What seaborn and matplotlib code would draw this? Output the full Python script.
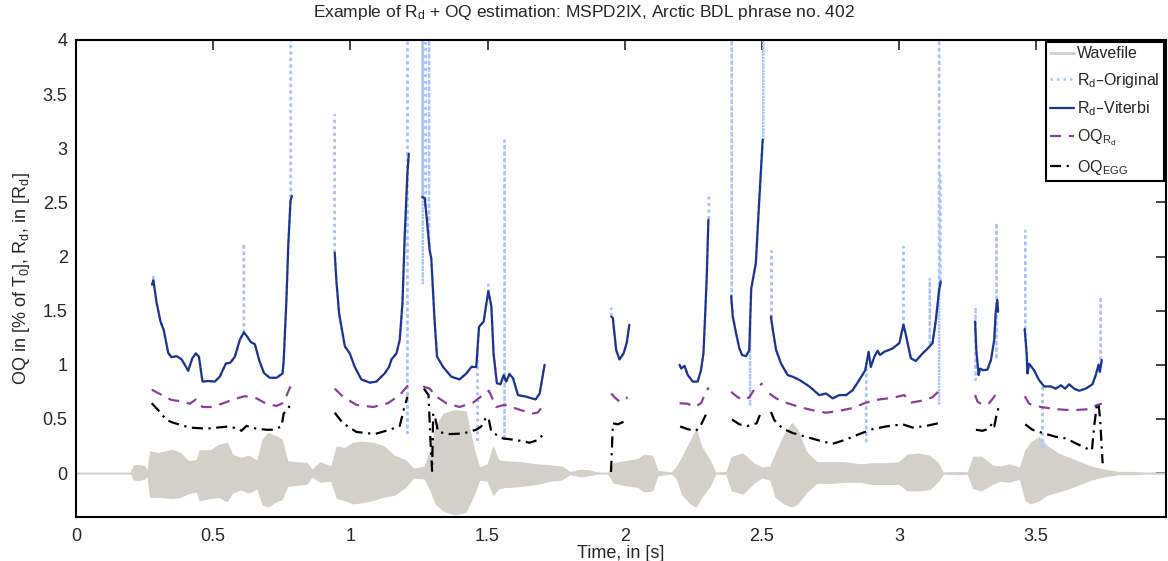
import numpy as np
import pandas as pd
import matplotlib
matplotlib.use("Agg")
import matplotlib.pyplot as plt
from matplotlib.lines import Line2D
import seaborn as sns

# Rd - Viterbi segments (time in s, value)
vit_t = [
    [0.277, 0.282, 0.294, 0.308, 0.320, 0.336, 0.348, 0.367, 0.385, 0.409, 0.424, 0.437, 0.448, 0.461, 0.482,
     0.506, 0.524, 0.546, 0.563, 0.579, 0.597, 0.612, 0.624, 0.637, 0.652, 0.668, 0.685, 0.706, 0.731, 0.753,
     0.757, 0.767, 0.774, 0.782, 0.787],
    [0.943, 0.949, 0.959, 0.980, 0.998, 1.016, 1.040, 1.071, 1.095, 1.125, 1.141, 1.150, 1.168, 1.180, 1.190,
     1.198, 1.208, 1.213],
    [1.262, 1.271, 1.279, 1.289, 1.295, 1.307, 1.316, 1.338, 1.368, 1.398, 1.423, 1.441, 1.459, 1.469, 1.486,
     1.496, 1.503, 1.514, 1.522, 1.534, 1.547, 1.559, 1.568, 1.580, 1.593, 1.611, 1.641, 1.675, 1.690, 1.708],
    [1.951, 1.957, 1.960, 1.969, 1.981, 1.996, 2.008, 2.017],
    [2.200, 2.206, 2.218, 2.230, 2.248, 2.266, 2.278, 2.287, 2.294, 2.299, 2.305],
    [2.388, 2.394, 2.406, 2.418, 2.428, 2.442, 2.454, 2.461, 2.478, 2.490, 2.503],
    [2.533, 2.540, 2.552, 2.570, 2.594, 2.612, 2.637, 2.673, 2.709, 2.734, 2.758, 2.782, 2.807, 2.831, 2.855,
     2.877, 2.889, 2.897, 2.910, 2.922, 2.930, 2.946, 2.976, 3.001, 3.016, 3.025, 3.043, 3.061, 3.086, 3.110,
     3.122, 3.134, 3.146, 3.152],
    [3.277, 3.282, 3.290, 3.295, 3.307, 3.322, 3.335, 3.347, 3.352, 3.358, 3.361],
    [3.458, 3.465, 3.468, 3.474, 3.492, 3.510, 3.529, 3.553, 3.571, 3.590, 3.605, 3.620, 3.638, 3.656, 3.681,
     3.705, 3.717, 3.727, 3.732, 3.739],
]
vit_v = [
    [1.74, 1.78, 1.57, 1.40, 1.32, 1.11, 1.07, 1.08, 1.05, 0.945, 1.06, 1.105, 1.075, 0.845, 0.85,
     0.845, 0.89, 1.01, 1.02, 1.075, 1.23, 1.30, 1.26, 1.21, 1.19, 1.04, 0.925, 0.88, 0.88, 0.92,
     1.04, 1.60, 2.12, 2.52, 2.56],
    [2.035, 1.78, 1.475, 1.17, 1.105, 0.98, 0.865, 0.835, 0.845, 0.92, 0.98, 1.05, 1.105, 1.23, 1.57,
     2.18, 2.77, 2.95],
    [2.55, 2.54, 2.34, 2.06, 1.98, 1.41, 1.075, 0.98, 0.89, 0.865, 0.92, 0.98, 0.98, 1.35, 1.40,
     1.57, 1.68, 1.54, 1.105, 0.83, 0.82, 0.905, 0.845, 0.915, 0.875, 0.72, 0.705, 0.68, 0.735, 1.00],
    [1.445, 1.43, 1.35, 1.135, 1.05, 1.105, 1.21, 1.37],
    [1.00, 0.965, 0.99, 0.905, 0.845, 0.845, 0.95, 1.105, 1.505, 1.81, 2.34],
    [1.635, 1.445, 1.29, 1.15, 1.09, 1.08, 1.135, 1.70, 1.94, 2.50, 3.08],
    [1.445, 1.32, 1.135, 1.01, 0.905, 0.89, 0.86, 0.80, 0.72, 0.735, 0.69, 0.72, 0.72, 0.765, 0.86,
     0.95, 1.12, 0.98, 1.075, 1.13, 1.09, 1.12, 1.15, 1.20, 1.37, 1.275, 1.06, 1.035, 1.105, 1.165,
     1.20, 1.41, 1.69, 1.77],
    [1.40, 1.12, 0.905, 0.965, 0.95, 0.955, 1.045, 1.23, 1.475, 1.60, 1.49],
    [1.33, 1.105, 0.92, 1.01, 0.95, 0.86, 0.80, 0.80, 0.78, 0.81, 0.78, 0.82, 0.78, 0.76, 0.78,
     0.82, 0.905, 1.00, 0.935, 1.045],
]

# Rd - Original: follows Viterbi except for these outlier excursions
orig_spike_t = [0.282, 0.612, 0.783, 0.943, 1.208, 1.264, 1.275, 1.287, 1.464, 1.503, 1.562, 1.951, 2.307,
                2.390, 2.457, 2.505, 2.535, 2.880, 3.016, 3.112, 3.146, 3.150, 3.279, 3.355, 3.460, 3.523, 3.735]
orig_spike_v = [(1.83,), (2.12,), (4.0,), (3.31,), (0.37, 4.0), (4.0, 1.74, 4.0), (4.0,), (4.0,), (0.28,),
                (1.74,), (3.07, 0.30), (1.52,), (2.57,), (4.0,), (0.62,), (4.0,), (2.05,), (0.27,), (2.09,),
                (1.80,), (4.0, 0.63), (2.75,), (1.53, 0.86), (2.31, 1.05), (2.24,), (0.24,), (1.63,)]

# OQ from Rd
oqrd_t = [
    [0.276, 0.306, 0.348, 0.391, 0.415, 0.437, 0.461, 0.494, 0.537, 0.573, 0.615, 0.658, 0.694, 0.731, 0.757,
     0.773, 0.782],
    [0.943, 0.973, 1.022, 1.083, 1.137, 1.180, 1.210],
    [1.265, 1.289, 1.314, 1.350, 1.398, 1.447, 1.483, 1.505, 1.520, 1.532, 1.562, 1.587, 1.623, 1.665, 1.684,
     1.704],
    [1.951, 1.963, 1.981, 2.011],
    [2.200, 2.230, 2.254, 2.278, 2.294, 2.306],
    [2.388, 2.412, 2.436, 2.454, 2.473, 2.503],
    [2.527, 2.552, 2.588, 2.637, 2.685, 2.734, 2.782, 2.831, 2.879, 2.928, 2.976, 3.019, 3.043, 3.086, 3.122,
     3.150],
    [3.277, 3.286, 3.304, 3.328, 3.347, 3.358],
    [3.458, 3.474, 3.517, 3.571, 3.632, 3.693, 3.723, 3.739],
]
oqrd_v = [
    [0.77, 0.73, 0.675, 0.66, 0.64, 0.68, 0.61, 0.61, 0.645, 0.68, 0.71, 0.69, 0.64, 0.62, 0.65, 0.75, 0.80],
    [0.78, 0.705, 0.63, 0.61, 0.645, 0.72, 0.81],
    [0.80, 0.78, 0.705, 0.645, 0.61, 0.65, 0.72, 0.76, 0.675, 0.61, 0.63, 0.61, 0.58, 0.55, 0.56, 0.63],
    [0.735, 0.70, 0.66, 0.70],
    [0.645, 0.64, 0.61, 0.645, 0.735, 0.79],
    [0.75, 0.70, 0.675, 0.70, 0.775, 0.83],
    [0.735, 0.69, 0.65, 0.61, 0.58, 0.557, 0.575, 0.60, 0.65, 0.68, 0.695, 0.72, 0.65, 0.67, 0.70, 0.77],
    [0.72, 0.66, 0.63, 0.645, 0.705, 0.75],
    [0.71, 0.64, 0.61, 0.59, 0.58, 0.59, 0.63, 0.64],
]

# OQ from EGG
oqegg_t = [
    [0.276, 0.300, 0.330, 0.354, 0.415, 0.476, 0.555, 0.591, 0.603, 0.621, 0.658, 0.694, 0.719, 0.749, 0.757,
     0.773, 0.785],
    [0.943, 0.973, 1.022, 1.089, 1.143, 1.180, 1.194, 1.208],
    [1.268, 1.285, 1.292, 1.298, 1.302, 1.310, 1.320, 1.362, 1.410, 1.459, 1.477, 1.496, 1.505, 1.514, 1.556,
     1.605, 1.653, 1.684, 1.708],
    [1.950, 1.957, 1.975, 2.011],
    [2.202, 2.230, 2.260, 2.278, 2.297],
    [2.391, 2.418, 2.448, 2.481, 2.497],
    [2.533, 2.545, 2.576, 2.612, 2.661, 2.709, 2.758, 2.807, 2.855, 2.903, 2.952, 3.013, 3.050, 3.098, 3.152],
    [3.280, 3.304, 3.328, 3.340, 3.347, 3.354, 3.362],
    [3.460, 3.486, 3.523, 3.571, 3.608, 3.644, 3.681, 3.703, 3.711, 3.720, 3.727, 3.733, 3.742],
]
oqegg_v = [
    [0.645, 0.58, 0.49, 0.465, 0.42, 0.41, 0.43, 0.41, 0.39, 0.435, 0.41, 0.40, 0.40, 0.43, 0.55, 0.59, 0.66],
    [0.557, 0.46, 0.38, 0.36, 0.40, 0.435, 0.58, 0.705],
    [0.78, 0.72, 0.30, 0.02, 0.55, 0.50, 0.38, 0.36, 0.365, 0.40, 0.43, 0.52, 0.49, 0.38, 0.32, 0.305, 0.28,
     0.305, 0.37],
    [0.01, 0.46, 0.45, 0.49],
    [0.43, 0.405, 0.39, 0.445, 0.545],
    [0.495, 0.45, 0.435, 0.46, 0.565],
    [0.565, 0.49, 0.41, 0.37, 0.335, 0.30, 0.27, 0.31, 0.36, 0.405, 0.43, 0.45, 0.42, 0.435, 0.465],
    [0.40, 0.39, 0.41, 0.465, 0.43, 0.52, 0.60],
    [0.45, 0.40, 0.37, 0.335, 0.32, 0.275, 0.23, 0.21, 0.43, 0.61, 0.645, 0.49, 0.09],
]

# waveform envelope (upper / lower amplitude)
wave_t = [0.00, 0.20, 0.21, 0.23, 0.25, 0.26, 0.27, 0.30, 0.35, 0.38, 0.41, 0.44, 0.45, 0.49, 0.52, 0.55,
          0.57, 0.60, 0.63, 0.66, 0.68, 0.70, 0.73, 0.75, 0.77, 0.80, 0.84, 0.86, 0.89, 0.93, 0.95, 0.98,
          1.01, 1.04, 1.08, 1.12, 1.16, 1.20, 1.23, 1.27, 1.29, 1.31, 1.34, 1.38, 1.42, 1.45, 1.47, 1.50,
          1.52, 1.54, 1.56, 1.62, 1.68, 1.73, 1.77, 1.80, 1.84, 1.87, 1.90, 1.94, 1.96, 2.00, 2.05, 2.07,
          2.10, 2.12, 2.17, 2.19, 2.21, 2.24, 2.26, 2.28, 2.31, 2.33, 2.37, 2.39, 2.43, 2.47, 2.50, 2.53,
          2.55, 2.58, 2.61, 2.63, 2.66, 2.70, 2.75, 2.80, 2.86, 2.90, 2.95, 3.00, 3.03, 3.07, 3.11, 3.14,
          3.16, 3.22, 3.25, 3.27, 3.30, 3.34, 3.37, 3.40, 3.44, 3.46, 3.48, 3.51, 3.54, 3.58, 3.62, 3.66,
          3.70, 3.75, 3.80, 3.85, 3.90, 3.97]
wave_hi = [0.005, 0.005, 0.07, 0.075, 0.06, 0.02, 0.20, 0.185, 0.215, 0.185, 0.11, 0.12, 0.21, 0.21, 0.26, 0.28,
           0.17, 0.14, 0.16, 0.11, 0.31, 0.37, 0.34, 0.31, 0.11, 0.10, 0.095, 0.03, 0.10, 0.06, 0.245, 0.23,
           0.28, 0.29, 0.28, 0.25, 0.16, 0.12, 0.04, 0.06, 0.20, 0.42, 0.55, 0.58, 0.57, 0.22, 0.05, 0.08,
           0.24, 0.12, 0.11, 0.10, 0.08, 0.07, 0.06, 0.01, 0.03, 0.025, 0.005, 0.005, 0.09, 0.11, 0.13, 0.17,
           0.16, 0.02, 0.005, 0.06, 0.15, 0.30, 0.40, 0.24, 0.12, 0.005, 0.01, 0.15, 0.18, 0.09, 0.05, 0.06,
           0.18, 0.35, 0.46, 0.40, 0.20, 0.10, 0.10, 0.10, 0.08, 0.09, 0.09, 0.10, 0.17, 0.18, 0.16, 0.10,
           0.005, 0.01, 0.005, 0.15, 0.15, 0.07, 0.06, 0.08, 0.05, 0.21, 0.28, 0.33, 0.25, 0.18, 0.14, 0.10,
           0.06, 0.03, 0.01, 0.01, 0.005, 0.005]
wave_lo = [-0.005, -0.005, -0.06, -0.065, -0.05, -0.02, -0.22, -0.22, -0.23, -0.22, -0.185, -0.17, -0.25, -0.23,
           -0.22, -0.26, -0.18, -0.15, -0.18, -0.14, -0.29, -0.31, -0.26, -0.24, -0.12, -0.11, -0.10, -0.03,
           -0.08, -0.07, -0.23, -0.25, -0.28, -0.27, -0.25, -0.22, -0.20, -0.13, -0.04, -0.05, -0.15, -0.28,
           -0.35, -0.38, -0.36, -0.20, -0.06, -0.07, -0.20, -0.14, -0.13, -0.12, -0.10, -0.07, -0.06, -0.01,
           -0.03, -0.02, -0.005, -0.005, -0.09, -0.11, -0.13, -0.17, -0.16, -0.02, -0.005, -0.05, -0.20, -0.28,
           -0.31, -0.22, -0.12, -0.005, -0.01, -0.16, -0.19, -0.09, -0.04, -0.06, -0.22, -0.28, -0.31, -0.28,
           -0.18, -0.09, -0.09, -0.08, -0.08, -0.10, -0.10, -0.10, -0.16, -0.16, -0.15, -0.08, -0.005, -0.01,
           -0.005, -0.14, -0.16, -0.10, -0.07, -0.08, -0.05, -0.25, -0.28, -0.25, -0.20, -0.17, -0.14, -0.10,
           -0.06, -0.03, -0.01, -0.01, -0.005, -0.005]

wave_col = "#d3cfc9"
orig_col = "#a9c3fb"
vit_col = "#1c3591"
oqrd_col = "#8d3d9c"
egg_col = "black"


def toFrame(tt, vv):
    rows = []
    for k, (ts, vs) in enumerate(zip(tt, vv)):
        for t, v in zip(ts, vs):
            rows.append((k, t, v))
    return pd.DataFrame(rows, columns=["seg", "t", "v"])


def withSpikes(ts, vs):
    pts = list(zip(ts, vs))
    for st, sv in zip(orig_spike_t, orig_spike_v):
        if ts[0] - 0.01 <= st <= ts[-1] + 0.01:
            base = float(np.interp(st, ts, vs))
            pts += [(st, base)] + [(st, v) for v in sv] + [(st + 1e-4, base)]
    pts = sorted(pts, key=lambda p: p[0])
    return [p[0] for p in pts], [p[1] for p in pts]


orig_t, orig_v = [], []
for ts, vs in zip(vit_t, vit_v):
    a, b = withSpikes(ts, vs)
    orig_t.append(a)
    orig_v.append(b)

sns.set_style("white")
plt.rcParams["font.family"] = ["Liberation Sans", "DejaVu Sans"]
plt.rcParams["mathtext.default"] = "regular"

fig = plt.figure(figsize=(11.68, 5.61), dpi=100)
ax = fig.add_axes([76 / 1168, 1 - 517 / 561, 1090 / 1168, 477 / 561])

# waveform
ax.fill_between(wave_t, wave_lo, wave_hi, color=wave_col, lw=0.8, edgecolor=wave_col, zorder=1)

orig_ls = (0, (1, 1.6))
rd_ls = (0, (5, 3.5))
egg_ls = (0, (5, 2.5, 1, 2.5))
common = dict(x="t", y="v", units="seg", estimator=None, sort=False, legend=False, ax=ax)
sns.lineplot(data=toFrame(orig_t, orig_v), color=orig_col, lw=1.8, linestyle=orig_ls, zorder=2, **common)
sns.lineplot(data=toFrame(vit_t, vit_v), color=vit_col, lw=1.6, zorder=3, **common)
sns.lineplot(data=toFrame(oqrd_t, oqrd_v), color=oqrd_col, lw=1.6, linestyle=rd_ls, zorder=3, **common)
sns.lineplot(data=toFrame(oqegg_t, oqegg_v), color=egg_col, lw=1.6, linestyle=egg_ls, zorder=3, **common)

ax.set_xlim(0, 3.973)
ax.set_ylim(-0.406, 4.0)
ax.set_xticks([0, 0.5, 1, 1.5, 2, 2.5, 3, 3.5])
ax.set_yticks([0, 0.5, 1, 1.5, 2, 2.5, 3, 3.5, 4])
ax.xaxis.set_major_formatter(plt.FormatStrFormatter("%g"))
ax.yaxis.set_major_formatter(plt.FormatStrFormatter("%g"))
ax.tick_params(direction="in", length=7, width=1.2, top=True, right=True, labelsize=13)
ax.tick_params(axis="x", pad=8)
ax.tick_params(axis="y", pad=6)
for s in ax.spines.values():
    s.set_linewidth(1.5)
    s.set_color("black")

ax.set_xlabel("Time, in [s]", fontsize=13, labelpad=0)
ax.set_ylabel("OQ in [% of T$_0$], R$_d$, in [R$_d$]", fontsize=13, labelpad=8)
fig.text(0.5, 1 - 13 / 561, "Example of R$_d$ + OQ estimation: MSPD2IX, Arctic BDL phrase no. 402",
         ha="center", va="center", fontsize=12.5)

handles = [
    Line2D([], [], color=wave_col, lw=2),
    Line2D([], [], color=orig_col, lw=1.8, linestyle=orig_ls),
    Line2D([], [], color=vit_col, lw=1.6),
    Line2D([], [], color=oqrd_col, lw=1.6, linestyle=rd_ls),
    Line2D([], [], color=egg_col, lw=1.6, linestyle=egg_ls),
]
labels = ["Wavefile", "R$_d$–Original", "R$_d$–Viterbi", "OQ$_{R_d}$", "OQ$_{EGG}$"]
leg = ax.legend(handles, labels, loc="upper right", fontsize=11.5, frameon=True, fancybox=False,
                edgecolor="black", framealpha=1, handlelength=1.5, handletextpad=0.2,
                labelspacing=0.6, borderpad=0.25, borderaxespad=0.15)
leg.get_frame().set_linewidth(1.5)

fig.savefig("out.png", dpi=100)
